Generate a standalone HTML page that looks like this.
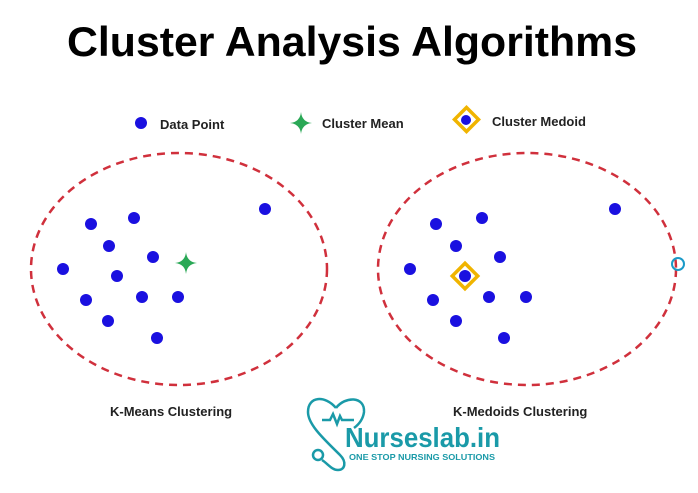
<!DOCTYPE html>
<html><head><style>body{margin:0;background:#fff}svg{display:block}</style></head><body>
<svg width="698" height="493" xmlns="http://www.w3.org/2000/svg" font-family="Liberation Sans, sans-serif">
<rect width="698" height="493" fill="#fff"/>
<text x="67" y="56" textLength="570" lengthAdjust="spacingAndGlyphs" font-size="42" font-weight="bold" fill="#000">Cluster Analysis Algorithms</text>
<g fill="#1a10e0">
<circle cx="141" cy="123" r="6"/>
<circle cx="91" cy="224" r="6"/><circle cx="134" cy="218" r="6"/><circle cx="109" cy="246" r="6"/><circle cx="153" cy="257" r="6"/><circle cx="63" cy="269" r="6"/><circle cx="117" cy="276" r="6"/><circle cx="86" cy="300" r="6"/><circle cx="142" cy="297" r="6"/><circle cx="178" cy="297" r="6"/><circle cx="108" cy="321" r="6"/><circle cx="157" cy="338" r="6"/><circle cx="265" cy="209" r="6"/>
<circle cx="436" cy="224" r="6"/><circle cx="482" cy="218" r="6"/><circle cx="456" cy="246" r="6"/><circle cx="500" cy="257" r="6"/><circle cx="410" cy="269" r="6"/><circle cx="433" cy="300" r="6"/><circle cx="489" cy="297" r="6"/><circle cx="526" cy="297" r="6"/><circle cx="456" cy="321" r="6"/><circle cx="504" cy="338" r="6"/><circle cx="615" cy="209" r="6"/>
</g>
<g font-size="13" font-weight="bold" fill="#222">
<text x="160" y="129">Data Point</text>
<text x="322" y="128">Cluster Mean</text>
<text x="492" y="126">Cluster Medoid</text>
<text x="110" y="416">K-Means Clustering</text>
<text x="453" y="416">K-Medoids Clustering</text>
</g>
<path d="M301 112 Q302 122 312 123 Q302 124 301 134 Q300 124 290 123 Q300 122 301 112Z" fill="#2aa856"/>
<path d="M186 252 Q187 262 197 263 Q187 264 186 274 Q185 264 175 263 Q185 262 186 252Z" fill="#2aa856"/>
<rect x="458" y="111" width="17" height="17" transform="rotate(45 466.5 119.5)" fill="none" stroke="#f0b400" stroke-width="3.5"/>
<circle cx="466" cy="120" r="5" fill="#1a10e0"/>
<rect x="456" y="267" width="18" height="18" transform="rotate(45 465 276)" fill="none" stroke="#f0b400" stroke-width="3.5"/>
<circle cx="465" cy="276" r="6" fill="#1a10e0"/>
<g fill="none" stroke="#d0303c" stroke-width="2.5" stroke-dasharray="8 6">
<ellipse cx="179" cy="269" rx="148" ry="116"/>
<ellipse cx="527" cy="269" rx="149" ry="116"/>
</g>
<circle cx="678" cy="264" r="6" fill="none" stroke="#1a9ac8" stroke-width="2"/>
<g fill="none" stroke="#1a9aa8" stroke-width="2.5">
<path d="M336 408 C325 395 308 396 308 412 C308 425 325 440 340 455 C347 462 345 470 338 470 C332 470 328 464 322 460"/>
<path d="M336 408 C345 396 365 396 364 412 C363 420 358 425 354 428"/>
<path d="M322 420 h8 l3 -6 l4 10 l3 -8 l2 4 h12"/>
<circle cx="318" cy="455" r="5"/>
</g>
<text x="345" y="447" textLength="155" lengthAdjust="spacingAndGlyphs" font-size="28" font-weight="bold" fill="#1a9aa8">Nurseslab.in</text>
<text x="349" y="460" textLength="146" lengthAdjust="spacingAndGlyphs" font-size="8.5" font-weight="bold" fill="#1a9aa8">ONE STOP NURSING SOLUTIONS</text>
</svg>
</body></html>
